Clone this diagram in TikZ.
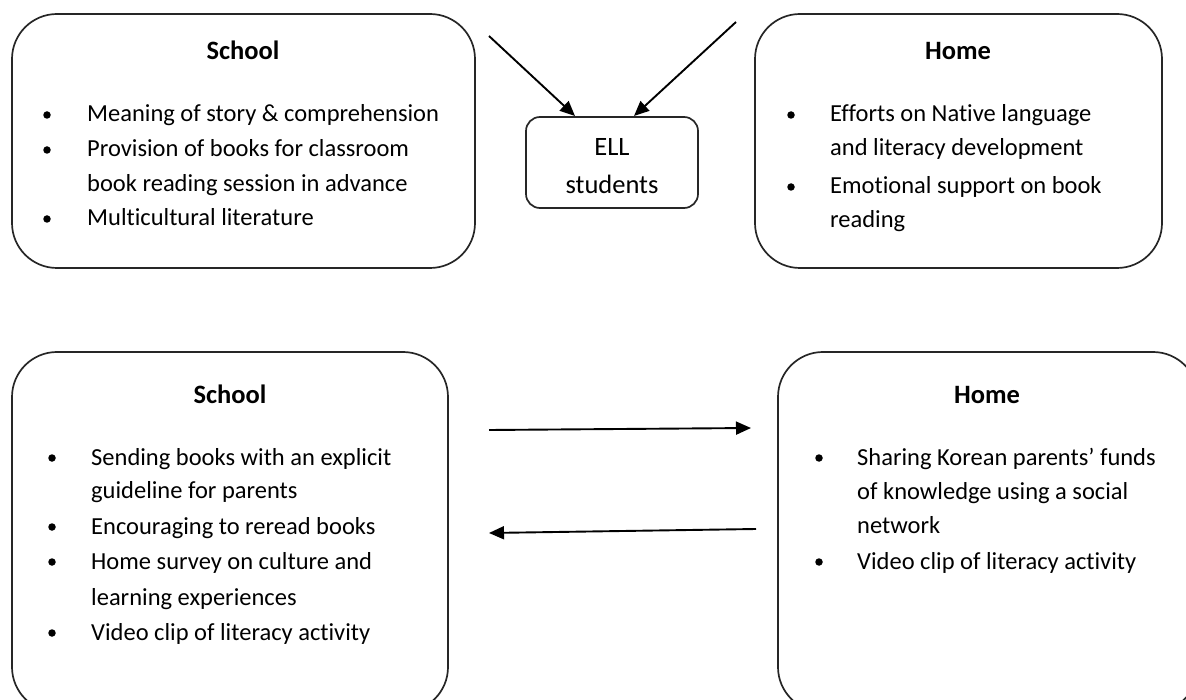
\documentclass[tikz,border=0pt]{standalone}
\usepackage{fontspec}
\setmainfont[Ligatures=NoCommon]{Carlito}
\usetikzlibrary{arrows.meta}
\begin{document}
\begin{tikzpicture}[x=1pt,y=-1pt,
  bigbox/.style={draw=black!85,line width=1.7pt,rounded corners=45pt},
  smallbox/.style={draw=black!85,line width=1.7pt,rounded corners=14pt},
  title/.style={font=\fontsize{26.5}{30}\selectfont\bfseries,anchor=base},
  item/.style={font=\fontsize{24.5}{28}\selectfont,anchor=base west,inner sep=0pt},
  dot/.style={fill=black,circle,inner sep=0pt,minimum size=7.5pt},
  arr/.style={line width=1.9pt,-{Triangle[length=15pt,width=13pt]}}]
\useasboundingbox (0,0) rectangle (1186,700);
\begin{scope}
\clip (0,0) rectangle (1186,700);
% boxes
\draw[bigbox] (12,14) rectangle (475,268);
\draw[bigbox] (755,14) rectangle (1162,268);
\draw[smallbox] (526,117) rectangle (698,208);
\node[minimum width=172pt,minimum height=91pt,inner sep=0pt] (ell) at (612,162.5) {};
\draw[bigbox] (12,352) rectangle (448,712);
\draw[bigbox] (778,352) rectangle (1198,712);
\end{scope}
% top school
\node[title] (ts) at (243,60) {School};
\node[dot] (ts1) at (47,115) {};
\node[item] (ts1a) at (87,122) {Meaning of story \& comprehension};
\node[dot] (ts2) at (47,150) {};
\node[item] (ts2a) at (87,157) {Provision of books for classroom};
\node[item] (ts2b) at (87,192) {book reading session in advance};
\node[dot] (ts3) at (47,219) {};
\node[item] (ts3a) at (87,226) {Multicultural literature};
% top home
\node[title] (th) at (958,60) {Home};
\node[dot] (th1) at (791,115) {};
\node[item] (th1a) at (830,122) {Efforts on Native language};
\node[item] (th1b) at (830,156) {and literacy development};
\node[dot] (th2) at (791,187) {};
\node[item] (th2a) at (830,194) {Emotional support on book};
\node[item] (th2b) at (830,228) {reading};
% ELL
\node[font=\fontsize{26.5}{30}\selectfont,anchor=base] (e1) at (612,156) {ELL};
\node[font=\fontsize{26.5}{30}\selectfont,anchor=base] (e2) at (612,194) {students};
% bottom school
\node[title] (bs) at (230,403) {School};
\node[dot] (bs1) at (52,458) {};
\node[item] (bs1a) at (91,465) {Sending books with an explicit};
\node[item] (bs1b) at (91,498) {guideline for parents};
\node[dot] (bs2) at (52,527) {};
\node[item] (bs2a) at (91,534) {Encouraging to reread books};
\node[dot] (bs3) at (52,562) {};
\node[item] (bs3a) at (91,569) {Home survey on culture and};
\node[item] (bs3b) at (91,605) {learning experiences};
\node[dot] (bs4) at (52,633) {};
\node[item] (bs4a) at (91,640) {Video clip of literacy activity};
% bottom home
\node[title] (bh) at (987,403) {Home};
\node[dot] (bh1) at (819,458) {};
\node[item] (bh1a) at (857,465) {Sharing Korean parents’ funds};
\node[item] (bh1b) at (857,499) {of knowledge using a social};
\node[item] (bh1c) at (857,533) {network};
\node[dot] (bh2) at (819,562) {};
\node[item] (bh2a) at (857,569) {Video clip of literacy activity};
% arrows
\coordinate (a1s) at (489,36);
\coordinate (a1e) at (575,116);
\coordinate (a2s) at (736,22);
\coordinate (a2e) at (634,116);
\draw[arr] (a1s) -- (a1e);
\draw[arr] (a2s) -- (a2e);
\coordinate (b1s) at (489,430);
\coordinate (b1e) at (751,428);
\coordinate (b2s) at (756,529);
\coordinate (b2e) at (489,533);
\draw[arr] (b1s) -- (b1e);
\draw[arr] (b2s) -- (b2e);
\end{tikzpicture}
\end{document}
